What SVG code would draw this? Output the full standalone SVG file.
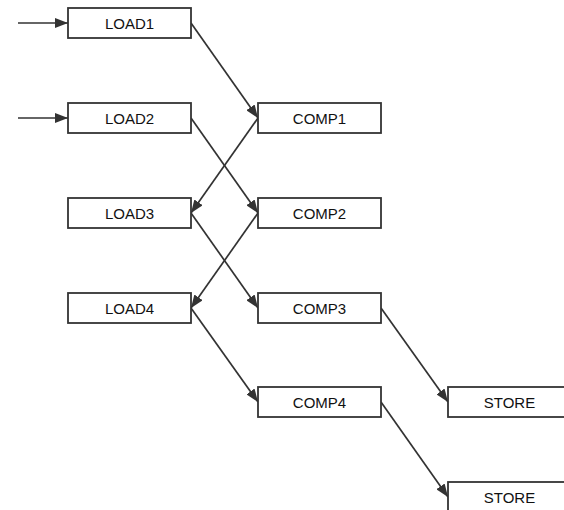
<svg xmlns="http://www.w3.org/2000/svg" width="564" height="510" viewBox="0 0 564 510">
<style>
.box{fill:#fff;stroke:#333;stroke-width:1.8}
.lbl{font-family:"Liberation Sans",Arial,sans-serif;font-size:15px;fill:#111;text-anchor:middle}
.edge{stroke:#333;stroke-width:1.7;fill:none;marker-end:url(#ah)}
</style>
<defs>
<marker id="ah" viewBox="0 0 13 10" refX="13" refY="5" markerWidth="13" markerHeight="10" markerUnits="userSpaceOnUse" orient="auto">
<path d="M0,0 L13,5 L0,10 Z" fill="#333"/>
</marker>
</defs>
<rect width="564" height="510" fill="#fff"/>
<g id="connectors">
<line class="edge" x1="18" y1="23" x2="68" y2="23"/>
<line class="edge" x1="18" y1="118" x2="68" y2="118"/>
<line class="edge" x1="191" y1="23" x2="258" y2="118"/>
<line class="edge" x1="191" y1="118" x2="258" y2="213"/>
<line class="edge" x1="258" y1="118" x2="191" y2="213"/>
<line class="edge" x1="191" y1="213" x2="258" y2="308"/>
<line class="edge" x1="258" y1="213" x2="191" y2="308"/>
<line class="edge" x1="191" y1="308" x2="258" y2="402"/>
<line class="edge" x1="381" y1="308" x2="448" y2="402"/>
<line class="edge" x1="381" y1="402" x2="448" y2="497"/>
</g>
<g id="load1"><rect class="box" x="68" y="8" width="123" height="30"/><text class="lbl" x="129.5" y="28.5">LOAD1</text></g>
<g id="load2"><rect class="box" x="68" y="103" width="123" height="30"/><text class="lbl" x="129.5" y="123.5">LOAD2</text></g>
<g id="load3"><rect class="box" x="68" y="198" width="123" height="30"/><text class="lbl" x="129.5" y="218.5">LOAD3</text></g>
<g id="load4"><rect class="box" x="68" y="293" width="123" height="30"/><text class="lbl" x="129.5" y="313.5">LOAD4</text></g>
<g id="comp1"><rect class="box" x="258" y="103" width="123" height="30"/><text class="lbl" x="319.5" y="123.5">COMP1</text></g>
<g id="comp2"><rect class="box" x="258" y="198" width="123" height="30"/><text class="lbl" x="319.5" y="218.5">COMP2</text></g>
<g id="comp3"><rect class="box" x="258" y="293" width="123" height="30"/><text class="lbl" x="319.5" y="313.5">COMP3</text></g>
<g id="comp4"><rect class="box" x="258" y="387" width="123" height="30"/><text class="lbl" x="319.5" y="407.5">COMP4</text></g>
<g id="store1"><rect class="box" x="448" y="387" width="123" height="30"/><text class="lbl" x="509.5" y="407.5">STORE</text></g>
<g id="store2"><rect class="box" x="448" y="482" width="123" height="30"/><text class="lbl" x="509.5" y="502.5">STORE</text></g>
</svg>
